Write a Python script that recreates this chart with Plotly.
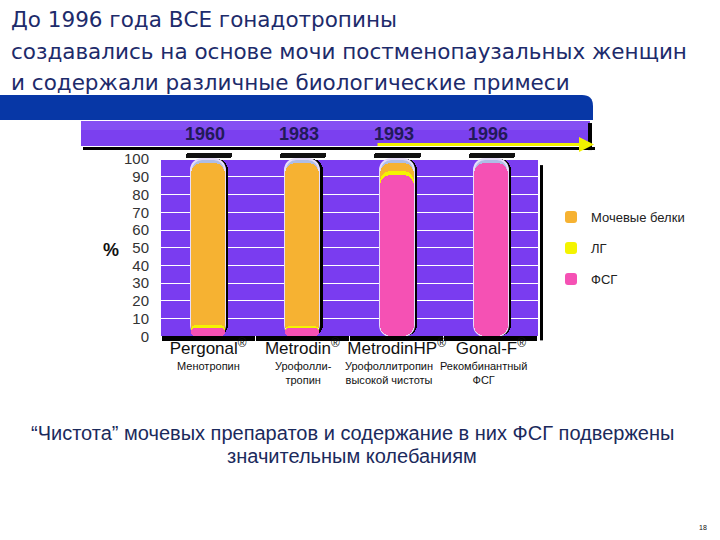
import plotly.graph_objects as go

# ---------------- data ----------------
CATS = ["Pergonal", "Metrodin", "MetrodinHP", "Gonal-F"]
CAT_LABELS = ["Pergonal<sup>®</sup>", "Metrodin<sup>®</sup>", "MetrodinHP<sup>®</sup>", "Gonal-F<sup>®</sup>"]
SUB_LABELS = ["Менотропин", "Урофолли-<br>тропин", "Урофоллитропин<br>высокой чистоты", "Рекомбинантный<br>ФСГ"]
YEARS = ["1960", "1983", "1993", "1996"]
FSH = [5, 5, 91, 98]            # ФСГ (bottom)
LH = [1.5, 1, 2.5, 0]           # ЛГ
URINE = [91.5, 92, 4.5, 0]      # Мочевые белки
TUBE_TOP = [100, 100, 100, 100]
Y_TICKS = [0, 10, 20, 30, 40, 50, 60, 70, 80, 90, 100]
SERIES_NAMES = ["Мочевые белки", "ЛГ", "ФСГ"]

TITLE_LINES = ["До 1996 года ВСЕ гонадотропины",
               "создавались на основе мочи постменопаузальных женщин",
               "и содержали различные биологические примеси"]
NOTE_LINES = ["“Чистота” мочевых препаратов и содержание в них ФСГ подвержены",
              "значительным колебаниям"]

# ---------------- style ----------------
W, H = 720, 540
Y_MIN, Y_MAX = -2.6, 104.0
PX0, PX100 = 336.0, 159.0            # pixel rows of y=0 and y=100
K = (PX0 - PX100) / 100.0
L, R = 161, 538
T = PX100 - (Y_MAX - 100) * K
B = PX0 + (0 - Y_MIN) * K
def pxx(x): return (x - L) / (R - L)
def pxy(y): return (B - y) / (B - T)

ORANGE = "#f6b232"
YELLOW = "#f4f400"
PINK = "#f551b4"
GLASS = "#aebde6"
PURPLE = "#7a3cf0"
NAVY = "#1d2b6b"
SANS = "Liberation Sans, Arial, sans-serif"

TUBE_W = 0.36
TUBE_OFF = -0.18
RAD = 11

# cumulative tops of each layer (each layer is drawn from its top down to 0, rounded at the bottom)
top_fsh = FSH
top_lh = [f + l for f, l in zip(FSH, LH)]
top_ur = [f + l + u for f, l, u in zip(FSH, LH, URINE)]

fig = go.Figure()

def tube_layer(tops, color, name=None, group=None, off=TUBE_OFF, line=None):
    return go.Bar(x=CATS, y=[-v for v in tops], base=tops, width=TUBE_W, offset=off,
                  name=name, legendgroup=group, showlegend=name is not None,
                  hoverinfo="skip" if name is None else None,
                  marker=dict(color=color, cornerradius=RAD, line=line or dict(width=0)))

fig.add_trace(tube_layer(TUBE_TOP, "#000000", off=TUBE_OFF + 0.035))                    # shadow
fig.add_trace(tube_layer(TUBE_TOP, GLASS, line=dict(width=2, color="#e6dcfa")))         # glass
fig.add_trace(tube_layer(top_ur, ORANGE, SERIES_NAMES[0], "a"))
fig.add_trace(tube_layer(top_lh, YELLOW, SERIES_NAMES[1], "b"))
fig.add_trace(tube_layer(top_fsh, PINK, SERIES_NAMES[2], "c"))

# caps
fig.add_trace(go.Bar(x=CATS, y=[3 for _ in CATS], base=[v + 0.6 for v in TUBE_TOP], width=0.49,
                     offset=-0.235, marker=dict(color="#111111", cornerradius=3, line=dict(width=0)),
                     showlegend=False, hoverinfo="skip"))
# base line under the chart
fig.add_trace(go.Bar(x=CATS, y=[-2.4 for _ in CATS], base=[0 for _ in CATS], width=0.985,
                     marker=dict(color="#000000", line=dict(width=0)),
                     showlegend=False, hoverinfo="skip"))

shapes = []
# purple chart background (0..100)
shapes.append(dict(type="rect", xref="paper", yref="y", x0=0, x1=1, y0=0, y1=100,
                   fillcolor=PURPLE, line=dict(width=0), layer="below"))
# dark blue band
shapes.append(dict(type="path", xref="paper", yref="paper",
                   path=(f"M {pxx(0)},{pxy(120)} L {pxx(593)},{pxy(120)} L {pxx(593)},{pxy(106)} "
                         f"Q {pxx(593)},{pxy(95)} {pxx(582)},{pxy(95)} L {pxx(0)},{pxy(95)} Z"),
                   fillcolor="#0737a6", line=dict(width=0), layer="below"))
# purple timeline
shapes.append(dict(type="rect", xref="paper", yref="paper", x0=pxx(81), x1=pxx(590),
                   y0=pxy(146), y1=pxy(121), fillcolor="#7b40ef", line=dict(width=0), layer="below"))
shapes.append(dict(type="rect", xref="paper", yref="paper", x0=pxx(81), x1=pxx(590),
                   y0=pxy(130), y1=pxy(121), fillcolor="#8550f3", line=dict(width=0), layer="below"))
shapes.append(dict(type="rect", xref="paper", yref="paper", x0=pxx(83), x1=pxx(595),
                   y0=pxy(150), y1=pxy(147), fillcolor="#000000", line=dict(width=0), layer="below"))
shapes.append(dict(type="rect", xref="paper", yref="paper", x0=pxx(588), x1=pxx(592),
                   y0=pxy(150), y1=pxy(123), fillcolor="#000000", line=dict(width=0), layer="below"))
# plot right shadow
shapes.append(dict(type="rect", xref="paper", yref="paper", x0=pxx(540), x1=pxx(543),
                   y0=pxy(340), y1=pxy(165), fillcolor="#000000", line=dict(width=0), layer="below"))

ann = []
for i, line in enumerate(TITLE_LINES):
    ann.append(dict(text=line, xref="paper", yref="paper", x=pxx(9), y=pxy(20 + i * 31.5),
                    xanchor="left", yanchor="middle", showarrow=False,
                    font=dict(family="DejaVu Sans", size=21.5, color=NAVY)))
for c, yr in zip(CATS, YEARS):
    ann.append(dict(text=f"<b>{yr}</b>", xref="x", yref="paper", x=c, y=pxy(134), xshift=-3,
                    xanchor="center", yanchor="middle",
                    showarrow=False, font=dict(family=SANS, size=18, color="#221a58")))
# yellow arrow
ann.append(dict(text="", xref="paper", yref="paper", x=pxx(594), y=pxy(144.5), ax=-218, ay=0,
                showarrow=True, arrowhead=2, arrowsize=1, arrowwidth=3, arrowcolor="#f2f200", standoff=0))
ann.append(dict(text="<b>%</b>", xref="paper", yref="paper", x=pxx(111), y=pxy(250),
                xanchor="center", yanchor="middle",
                showarrow=False, font=dict(family=SANS, size=18, color="#111111")))
SUB_SHIFT = [0, 1, -8, -7]
for c, s, sh in zip(CATS, SUB_LABELS, SUB_SHIFT):
    ann.append(dict(text=s, xref="x", yref="paper", x=c, y=pxy(358), xshift=sh,
                    xanchor="center", yanchor="top",
                    showarrow=False, font=dict(family=SANS, size=11, color="#111111")))
for i, line in enumerate(NOTE_LINES):
    ann.append(dict(text=line, xref="paper", yref="paper", x=pxx(352), y=pxy(432 + i * 23),
                    xanchor="center", yanchor="middle",
                    showarrow=False, font=dict(family=SANS, size=20, color="#1b2a5c")))
ann.append(dict(text="18", xref="paper", yref="paper", x=pxx(703), y=pxy(527),
                xanchor="center", yanchor="middle",
                showarrow=False, font=dict(family=SANS, size=7, color="#111111")))

fig.update_layout(
    width=W, height=H, margin=dict(l=L, r=W - R, t=T, b=H - B, pad=0),
    paper_bgcolor="#ffffff", plot_bgcolor="#ffffff",
    barmode="overlay", bargap=0,
    shapes=shapes, annotations=ann,
    showlegend=True,
    legend=dict(x=pxx(551), y=pxy(202), xanchor="left", yanchor="top", traceorder="grouped",
                tracegroupgap=11, bgcolor="rgba(0,0,0,0)",
                font=dict(family=SANS, size=13, color="#222222")),
    xaxis=dict(type="category", categoryorder="array", categoryarray=CATS, range=[-0.5, 3.5],
               tickvals=CATS, ticktext=CAT_LABELS, showgrid=False, zeroline=False, showline=False,
               ticks="", ticklabelstandoff=-5,
               tickfont=dict(family=SANS, size=17, color="#111111")),
    yaxis=dict(range=[Y_MIN, Y_MAX], tickvals=Y_TICKS, showgrid=True, gridcolor="#ffffff", gridwidth=1,
               zeroline=False, showline=False, ticks="outside", ticklen=8, tickcolor="rgba(0,0,0,0)",
               tickfont=dict(family=SANS, size=15, color="#333333")),
)

fig.write_html("out.html", config={"displayModeBar": False},
               post_script="document.body.style.margin='0px';")
